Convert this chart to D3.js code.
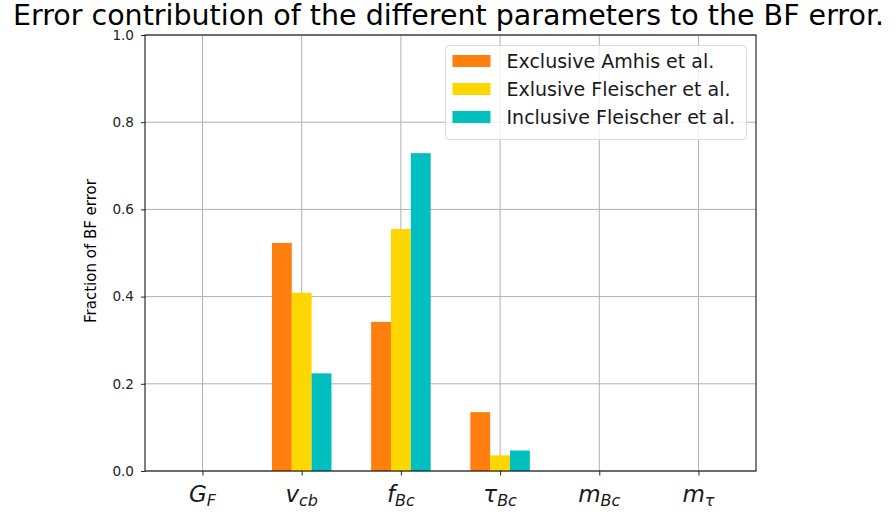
<!DOCTYPE html>
<html><head><meta charset="utf-8">
<script src="https://cdn.jsdelivr.net/npm/d3@7"></script>
<style>body{margin:0;background:#fff}svg{display:block}text{font-family:"DejaVu Sans",sans-serif}</style>
</head><body><svg id="c" width="896" height="512"></svg>
<script>
const categories = [
  {base:"G", sub:"F"},
  {base:"v", sub:"cb"},
  {base:"f", sub:"Bc"},
  {base:"τ", sub:"Bc"},
  {base:"m", sub:"Bc"},
  {base:"m", sub:"τ"}
];
const seriesNames = ["Exclusive Amhis et al.", "Exlusive Fleischer et al.", "Inclusive Fleischer et al."];
const seriesColors = ["#ff7f0e", "#ffd700", "#00bfbf"];
const amhis = [0, 0.523, 0.342, 0.135, 0, 0];
const fleischerExcl = [0, 0.409, 0.555, 0.036, 0, 0];
const fleischerIncl = [0, 0.224, 0.729, 0.047, 0, 0];
const series = [amhis, fleischerExcl, fleischerIncl];
const yTicks = [0, 0.2, 0.4, 0.6, 0.8, 1.0];
const title = "Error contribution of the different parameters to the BF error.";
const yLabel = "Fraction of BF error";

const svg = d3.select("#c");
const L = 145, R = 756, T = 35, B = 471;
const barW = 0.2;
const x = d3.scaleLinear().domain([-0.58, 5.58]).range([L, R]);
const y = d3.scaleLinear().domain([0, 1]).range([B, T]);

// grid
const g = svg.append("g");
g.selectAll(".vg").data(categories).enter().append("line")
  .attr("x1", (d,i)=>x(i)).attr("x2", (d,i)=>x(i)).attr("y1", T).attr("y2", B)
  .attr("stroke", "#b0b0b0").attr("stroke-width", 1);
g.selectAll(".hg").data(yTicks).enter().append("line")
  .attr("x1", L).attr("x2", R).attr("y1", d=>y(d)).attr("y2", d=>y(d))
  .attr("stroke", "#b0b0b0").attr("stroke-width", 1);

// bars
series.forEach((vals, s) => {
  svg.append("g").selectAll("rect").data(vals).enter().append("rect")
    .attr("x", (d,i)=>x(i + (s-1)*barW - barW/2))
    .attr("width", x(barW) - x(0))
    .attr("y", d=>y(d))
    .attr("height", d=>y(0)-y(d))
    .attr("fill", seriesColors[s]);
});

// axes
const yAxis = d3.axisLeft(y).tickValues(yTicks).tickFormat(d3.format(".1f")).tickSize(4).tickPadding(7);
const ya = svg.append("g").attr("transform", `translate(${L},0)`).call(yAxis);
ya.select(".domain").remove();
ya.selectAll("text").attr("font-size", 13.6).attr("fill", "#262626").attr("font-family","DejaVu Sans");
ya.selectAll("line").attr("stroke", "#262626");

const xAxis = d3.axisBottom(x).tickValues(d3.range(categories.length)).tickFormat("").tickSize(4.5);
const xa = svg.append("g").attr("transform", `translate(0,${B})`).call(xAxis);
xa.select(".domain").remove();
xa.selectAll("line").attr("stroke", "#262626");

// x tick labels (math)
const xl = svg.append("g");
categories.forEach((c, i) => {
  const t = xl.append("text").attr("x", x(i)).attr("y", 502).attr("text-anchor", "middle")
    .attr("fill", "#1a1a1a").attr("font-size", 23).attr("font-style", "italic");
  t.append("tspan").text(c.base);
  t.append("tspan").attr("font-size", 16).attr("dy", 4).text(c.sub);
});

// frame
svg.append("rect").attr("x", L).attr("y", T).attr("width", R-L).attr("height", B-T)
  .attr("fill", "none").attr("stroke", "#000").attr("stroke-width", 1);

// title
svg.append("text").attr("x", (L+R)/2 - 2).attr("y", 25).attr("text-anchor", "middle")
  .attr("font-size", 28.5).attr("fill", "#000").text(title);

// y label
svg.append("text").attr("transform", `translate(96,${(T+B)/2 - 2}) rotate(-90)`).attr("text-anchor", "middle")
  .attr("font-size", 15).attr("fill", "#000").text(yLabel);

// legend
const lg = svg.append("g").attr("transform", "translate(445.5,45.5)");
lg.append("rect").attr("width", 301).attr("height", 94).attr("rx", 4)
  .attr("fill", "#fff").attr("fill-opacity", 0.8).attr("stroke", "#d9d9d9");
seriesNames.forEach((n, i) => {
  lg.append("rect").attr("x", 7).attr("y", 9.5 + i*28).attr("width", 38).attr("height", 12).attr("fill", seriesColors[i]);
  lg.append("text").attr("x", 61).attr("y", 22.5 + i*28).attr("font-size", 19).attr("fill", "#1a1a1a").text(n);
});
</script></body></html>
